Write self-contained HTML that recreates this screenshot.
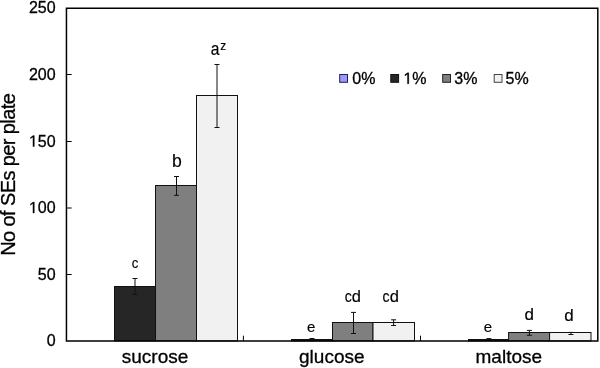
<!DOCTYPE html>
<html><head><meta charset="utf-8"><style>
html,body{margin:0;padding:0;background:#fff;}
svg{display:block;will-change:transform;font-family:"Liberation Sans",sans-serif;fill:#000;}
text{stroke:#000;stroke-width:0.3px;}
.lb{stroke-width:0.15px;}
</style></head><body>
<svg width="600" height="368" viewBox="0 0 600 368">
<rect width="600" height="368" fill="#fff"/>
<rect x="114.50" y="286.50" width="41.00" height="54.40" fill="#262626" stroke="#111" stroke-width="1"/>
<rect x="155.50" y="185.50" width="41.00" height="155.40" fill="#7f7f7f" stroke="#111" stroke-width="1"/>
<rect x="196.50" y="95.50" width="41.00" height="245.40" fill="#f1f1f1" stroke="#111" stroke-width="1"/>
<rect x="291.50" y="339.50" width="41.00" height="1.40" fill="#262626" stroke="#111" stroke-width="1"/>
<rect x="332.50" y="322.50" width="40.50" height="18.40" fill="#7f7f7f" stroke="#111" stroke-width="1"/>
<rect x="373.00" y="322.50" width="41.50" height="18.40" fill="#f1f1f1" stroke="#111" stroke-width="1"/>
<rect x="468.50" y="339.50" width="40.10" height="1.40" fill="#262626" stroke="#111" stroke-width="1"/>
<rect x="508.60" y="332.50" width="41.00" height="8.40" fill="#7f7f7f" stroke="#111" stroke-width="1"/>
<rect x="549.60" y="332.50" width="41.40" height="8.40" fill="#f1f1f1" stroke="#111" stroke-width="1"/>
<path d="M135.00 278.50V294.50M132.50 278.50h5M132.50 294.50h5" stroke="#111" stroke-width="1" fill="none"/>
<path d="M176.50 176.50V195.30M174.00 176.50h5M174.00 195.30h5" stroke="#111" stroke-width="1" fill="none"/>
<path d="M217.00 64.50V127.50M214.50 64.50h5M214.50 127.50h5" stroke="#111" stroke-width="1" fill="none"/>
<path d="M312.00 338.50V340.00M309.50 338.50h5M309.50 340.00h5" stroke="#111" stroke-width="1" fill="none"/>
<path d="M353.50 312.40V333.50M351.00 312.40h5M351.00 333.50h5" stroke="#111" stroke-width="1" fill="none"/>
<path d="M393.60 319.80V325.50M391.10 319.80h5M391.10 325.50h5" stroke="#111" stroke-width="1" fill="none"/>
<path d="M488.90 338.60V340.00M486.40 338.60h5M486.40 340.00h5" stroke="#111" stroke-width="1" fill="none"/>
<path d="M529.40 330.40V335.30M526.90 330.40h5M526.90 335.30h5" stroke="#111" stroke-width="1" fill="none"/>
<path d="M570.90 332.40V334.50M568.40 332.40h5M568.40 334.50h5" stroke="#111" stroke-width="1" fill="none"/>
<path d="M66.45 8.35V340.9H597.8V8.35Z" fill="none" stroke="#000" stroke-width="1.5"/>
<path d="M66.45 274.50h5.2 M66.45 208.00h5.2 M66.45 141.50h5.2 M66.45 74.50h5.2 M243.40 340.9v-5.2 M420.50 340.9v-5.2" stroke="#000" stroke-width="1"/>
<text x="55.6" y="346.30" text-anchor="end" font-size="16">0</text>
<text x="55.6" y="279.60" text-anchor="end" font-size="16">50</text>
<text x="55.6" y="213.10" text-anchor="end" font-size="16">00</text>
<path d="M696 0H515V1237L197 1010V1180L530 1409H696Z" stroke="#000" stroke-width="38.4" transform="translate(28.90 213.10) scale(0.00781 -0.00781)"/>
<text x="55.6" y="146.60" text-anchor="end" font-size="16">50</text>
<path d="M696 0H515V1237L197 1010V1180L530 1409H696Z" stroke="#000" stroke-width="38.4" transform="translate(28.90 146.60) scale(0.00781 -0.00781)"/>
<text x="55.6" y="79.60" text-anchor="end" font-size="16">200</text>
<text x="55.6" y="12.90" text-anchor="end" font-size="16">250</text>
<text transform="translate(15.1 174.8) rotate(-90)" text-anchor="middle" font-size="20" letter-spacing="-0.6">No of SEs per plate</text>
<text x="155.00" y="362.7" text-anchor="middle" font-size="19">sucrose</text>
<text x="331.80" y="362.7" text-anchor="middle" font-size="19">glucose</text>
<text x="508.80" y="362.7" text-anchor="middle" font-size="19">maltose</text>
<rect x="339.70" y="74.5" width="7.8" height="7.8" fill="#9999ff" stroke="#222250" stroke-width="1"/>
<text x="352.30" y="83.8" font-size="16">0%</text>
<rect x="390.80" y="74.5" width="7.8" height="7.8" fill="#262626" stroke="#111" stroke-width="1"/>
<path d="M696 0H515V1237L197 1010V1180L530 1409H696Z" stroke="#000" stroke-width="38.4" transform="translate(403.40 83.80) scale(0.00781 -0.00781)"/>
<text x="412.30" y="83.8" font-size="16">%</text>
<rect x="442.70" y="74.5" width="7.8" height="7.8" fill="#7f7f7f" stroke="#222" stroke-width="1"/>
<text x="454.30" y="83.8" font-size="16">3%</text>
<rect x="494.20" y="74.5" width="7.8" height="7.8" fill="#f1f1f1" stroke="#444" stroke-width="1"/>
<text x="505.60" y="83.8" font-size="16">5%</text>
<text class="lb" transform="translate(135.00 267.80) scale(0.88 1)" text-anchor="middle" font-size="15">c</text>
<text class="lb" transform="translate(176.90 167.00) scale(1.0 1)" text-anchor="middle" font-size="17.6">b</text>
<text class="lb" transform="translate(311.20 331.90) scale(1.0 1)" text-anchor="middle" font-size="15">e</text>
<text class="lb" transform="translate(348.35 302.00) scale(0.85 1)" text-anchor="middle" font-size="16.5">c</text>
<text class="lb" transform="translate(356.35 302.00) scale(0.97 1)" text-anchor="middle" font-size="17">d</text>
<text class="lb" transform="translate(386.10 302.00) scale(0.85 1)" text-anchor="middle" font-size="16.5">c</text>
<text class="lb" transform="translate(394.30 302.00) scale(0.97 1)" text-anchor="middle" font-size="17">d</text>
<text class="lb" transform="translate(487.80 331.80) scale(1.0 1)" text-anchor="middle" font-size="15">e</text>
<text class="lb" transform="translate(529.20 320.00) scale(1.0 1)" text-anchor="middle" font-size="17">d</text>
<text class="lb" transform="translate(569.00 320.90) scale(1.0 1)" text-anchor="middle" font-size="17">d</text>
<text class="lb" transform="translate(215.1 54.6) scale(0.92 1.03)" text-anchor="middle" font-size="17">a</text>
<text class="lb" transform="translate(223.2 49.7) scale(0.95 1)" text-anchor="middle" font-size="12.5">z</text>
</svg>
</body></html>
